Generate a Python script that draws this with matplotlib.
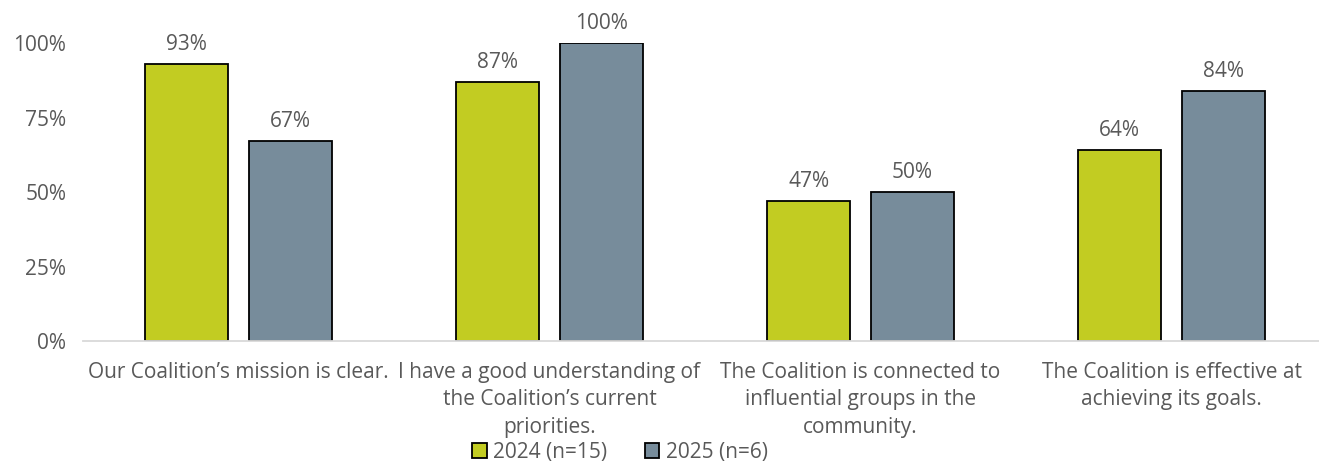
import matplotlib.pyplot as plt
import numpy as np

categories = ["Our Coalition\u2019s mission is clear.",
              "I have a good understanding of\nthe Coalition\u2019s current\npriorities.",
              "The Coalition is connected to\ninfluential groups in the\ncommunity.",
              "The Coalition is effective at\nachieving its goals."]
vals_2024 = [93, 87, 47, 64]
vals_2025 = [67, 100, 50, 84]
series_names = ["2024 (n=15)", "2025 (n=6)"]

plt.rcParams['font.family'] = ['Open Sans', 'DejaVu Sans']
txt_color = '#595959'
fs = 15

fig = plt.figure(figsize=(13.19, 4.69), dpi=100)
ax = fig.add_axes([83 / 1319, 1 - 341 / 469, 1244 / 1319, 298 / 469])

x = np.arange(len(categories))
w = 0.267
off = 0.166
b1 = ax.bar(x - off, vals_2024, w, color='#c2cc22', edgecolor='black', linewidth=1.3, label=series_names[0])
b2 = ax.bar(x + off, vals_2025, w, color='#778c9b', edgecolor='black', linewidth=1.3, label=series_names[1])

# value labels above each bar
for bars, vals in ((b1, vals_2024), (b2, vals_2025)):
    for rect, v in zip(bars, vals):
        ax.annotate(f'{v}%', (rect.get_x() + rect.get_width() / 2, v), xytext=(0, 14),
                    textcoords='offset points', ha='center', va='center',
                    fontsize=fs, color=txt_color)

ax.set_xlim(-0.5, 3.5)
ax.set_ylim(0, 100)
ax.set_yticks([0, 25, 50, 75, 100])
ax.set_yticklabels([f'{t}%' for t in [0, 25, 50, 75, 100]], fontsize=fs, color=txt_color)
ax.set_xticks(x)
ax.set_xticklabels(categories, fontsize=fs, color=txt_color, linespacing=1.4)
ax.tick_params(length=0)
ax.tick_params(axis='y', pad=12)
ax.tick_params(axis='x', pad=15)
for s in ['top', 'right', 'left']:
    ax.spines[s].set_visible(False)
ax.spines['bottom'].set_color('#d9d9d9')
ax.spines['bottom'].set_linewidth(1.3)

leg = fig.legend(loc='center', bbox_to_anchor=(620 / 1319, 1 - 452 / 469), ncol=2, frameon=False,
                 fontsize=fs, handlelength=0.7, handleheight=0.7, handletextpad=0.3, columnspacing=1.8)
for t in leg.get_texts():
    t.set_color(txt_color)

fig.savefig('out.png', dpi=100)
